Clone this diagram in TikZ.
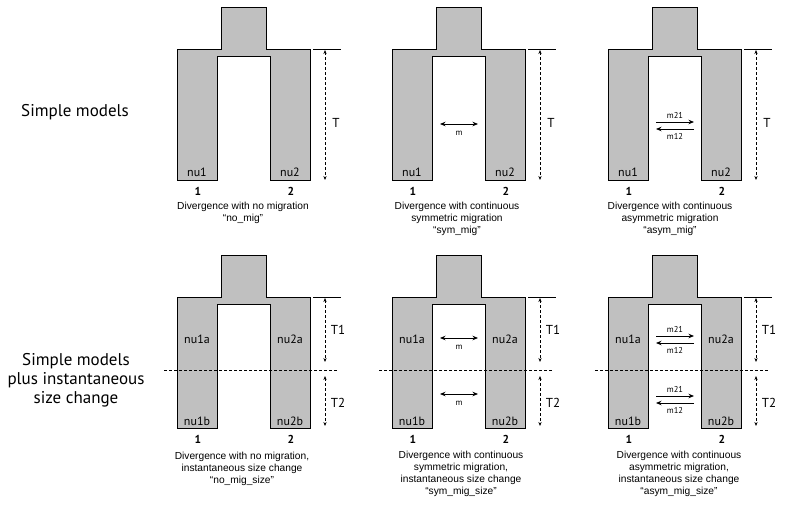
\documentclass[tikz,border=0pt]{standalone}
\usepackage{fontspec}
\setmainfont{Liberation Sans}
\newfontfamily\headfont{PT Sans}
\usetikzlibrary{arrows.meta}
\definecolor{popgray}{RGB}{192,192,192}
\tikzset{
  pop/.style={fill=popgray, draw=black, line width=0.9pt},
  poplbl/.style={font=\headfont\fontsize{12}{12}\selectfont, inner sep=0},
  numlbl/.style={font=\headfont\bfseries\fontsize{11.5}{11.5}\selectfont, inner sep=0},
  capt/.style={font=\fontsize{10.2}{12}\selectfont, align=center, inner sep=0, anchor=north},
  timelbl/.style={font=\headfont\fontsize{13}{13}\selectfont, inner sep=0},
  miglbl/.style={font=\headfont\fontsize{8.5}{8.5}\selectfont, inner sep=0},
  rowlbl/.style={font=\headfont\fontsize{17}{19}\selectfont, align=center, inner sep=0},
  timearrow/.style={dash pattern=on 3pt off 2pt, line width=0.6pt, {Stealth[length=4pt,width=3.2pt]}-{Stealth[length=4pt,width=3.2pt]}},
  migarrow/.style={line width=0.9pt, {Stealth[length=5.5pt,width=4.5pt]}-{Stealth[length=5.5pt,width=4.5pt]}},
  onearrow/.style={line width=0.9pt, -{Stealth[length=5.5pt,width=4.5pt]}},
  tickline/.style={line width=0.6pt},
  splitline/.style={dash pattern=on 3pt off 2pt, line width=0.6pt},
}
\newcommand\popshape[1]{%
  \draw[pop] (44,7) -- (44,49) -- (0,49) -- (0,180) -- (40,180) -- (40,56) -- (93,56) -- (93,180) -- (133,180) -- (133,49) -- (89,49) -- (89,7) -- cycle;
  \node[numlbl] (#1-one) at (21,191) {1};
  \node[numlbl] (#1-two) at (114,191) {2};
  \coordinate (#1-tickL) at (136,49);
  \coordinate (#1-tickR) at (164,49);
  \draw[tickline] (#1-tickL) -- (#1-tickR);
}
\newcommand\topparts[1]{%
  \node[poplbl] (#1-nu1) at (20,172) {nu1};
  \node[poplbl] (#1-nu2) at (113,172) {nu2};
  \coordinate (#1-Ta) at (148,50);
  \coordinate (#1-Tb) at (148,180);
  \draw[timearrow] (#1-Ta) -- (#1-Tb);
  \node[timelbl] (#1-T) at (159,123) {T};
}
\newcommand\botparts[1]{%
  \node[poplbl] (#1-nu1a) at (20,91) {nu1a};
  \node[poplbl] (#1-nu2a) at (113,91) {nu2a};
  \node[poplbl] (#1-nu1b) at (20,173) {nu1b};
  \node[poplbl] (#1-nu2b) at (113,173) {nu2b};
  \coordinate (#1-Ta) at (148,50);
  \coordinate (#1-Tb) at (148,114);
  \coordinate (#1-Tc) at (148,128);
  \coordinate (#1-Td) at (148,178);
  \draw[timearrow] (#1-Ta) -- (#1-Tb);
  \draw[timearrow] (#1-Tc) -- (#1-Td);
  \node[timelbl] (#1-T1) at (161,82) {T1};
  \node[timelbl] (#1-T2) at (161,155) {T2};
  \coordinate (#1-sL) at (-13,122);
  \coordinate (#1-sR) at (160,122);
  \draw[splitline] (#1-sL) -- (#1-sR);
}
\newcommand\symmig[2]{%
  \coordinate (#1-a) at (48,#2);
  \coordinate (#1-b) at (86,#2);
  \draw[migarrow] (#1-a) -- (#1-b);
  \node[miglbl] (#1-m) at (67,#2+9) {m};
}
\newcommand\asymmig[2]{%
  \coordinate (#1-a) at (48,#2);
  \coordinate (#1-b) at (86,#2);
  \coordinate (#1-c) at (86,#2+7);
  \coordinate (#1-d) at (48,#2+7);
  \draw[onearrow] (#1-a) -- (#1-b);
  \draw[onearrow] (#1-c) -- (#1-d);
  \node[miglbl] (#1-m21) at (67,#2-7) {m21};
  \node[miglbl] (#1-m12) at (67,#2+14) {m12};
}
\begin{document}
\begin{tikzpicture}[x=1pt,y=-1pt]
\useasboundingbox (0,0) rectangle (801,509);
\node[rowlbl] (row1) at (75,112) {Simple models};
\node[rowlbl] (row2) at (76,380) {Simple models\\plus instantaneous\\size change};
% top row
\begin{scope}[shift={(177,0)}]
  \popshape{p1}\topparts{p1}
  \node[capt] (p1-cap) at (66,202) {Divergence with no migration\\“no\_mig”};
\end{scope}
\begin{scope}[shift={(392,0)}]
  \popshape{p2}\topparts{p2}\symmig{p2m}{124}
  \node[capt] (p2-cap) at (65,202) {Divergence with continuous\\symmetric migration\\“sym\_mig”};
\end{scope}
\begin{scope}[shift={(608,0)}]
  \popshape{p3}\topparts{p3}\asymmig{p3m}{122}
  \node[capt] (p3-cap) at (62,202) {Divergence with continuous\\asymmetric migration\\“asym\_mig”};
\end{scope}
% bottom row
\begin{scope}[shift={(177,248)}]
  \popshape{p4}\botparts{p4}
  \node[capt] (p4-cap) at (65,204) {Divergence with no migration,\\instantaneous size change\\“no\_mig\_size”};
\end{scope}
\begin{scope}[shift={(392,248)}]
  \popshape{p5}\botparts{p5}\symmig{p5u}{90}\symmig{p5l}{146}
  \node[capt] (p5-cap) at (69,203) {Divergence with continuous\\symmetric migration,\\instantaneous size change\\“sym\_mig\_size”};
\end{scope}
\begin{scope}[shift={(608,248)}]
  \popshape{p6}\botparts{p6}\asymmig{p6u}{88}\asymmig{p6l}{148}
  \node[capt] (p6-cap) at (71,203) {Divergence with continuous\\asymmetric migration,\\instantaneous size change\\“asym\_mig\_size”};
\end{scope}
\end{tikzpicture}
\end{document}
